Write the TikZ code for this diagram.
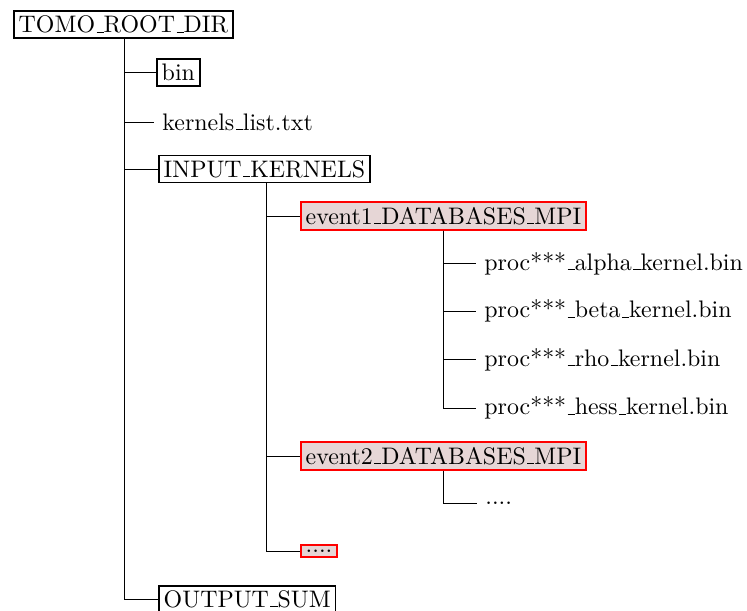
\documentclass[tikz,border=0pt]{standalone}
\definecolor{boxfill}{RGB}{230,214,214}
\newcommand\usc{\leavevmode\kern.06em\vbox{\hrule width.3em}}
\begin{document}
\begin{tikzpicture}[x=0.4184pt,y=-0.4184pt,
  dirbox/.style={draw=black,line width=0.8pt,inner sep=2pt,anchor=west},
  evbox/.style={draw=red,fill=boxfill,line width=0.8pt,inner sep=2pt,anchor=west},
  plain/.style={inner sep=3.33pt,anchor=west},
  conn/.style={draw=black,line width=0.4pt}]
\useasboundingbox (0,0) rectangle (747,610);
\node[dirbox] (root) at (13,24.5) {TOMO\usc ROOT\usc DIR};
\node[dirbox] (bin) at (156,72.5) {bin};
\node[plain] (kl) at (154,122) {kernels\usc list.txt};
\node[dirbox] (ik) at (158,169) {INPUT\usc KERNELS};
\node[evbox] (ev1) at (300,216) {event1\usc DATABASES\usc MPI};
\node[plain] (p1) at (476,263.5) {proc***\usc alpha\usc kernel.bin};
\node[plain] (p2) at (476,311) {proc***\usc beta\usc kernel.bin};
\node[plain] (p3) at (476,359.5) {proc***\usc rho\usc kernel.bin};
\node[plain] (p4) at (476,408) {proc***\usc hess\usc kernel.bin};
\node[evbox] (ev2) at (300,456) {event2\usc DATABASES\usc MPI};
\node[plain] (d2) at (477,503) {....};
\node[evbox] (d1) at (300,551) {....};
\node[dirbox] (os) at (158,599) {OUTPUT\usc SUM};
\foreach \c in {bin,kl,ik,os} \draw[conn] ([xshift=0.5pt]root.south) |- (\c.west);
\foreach \c in {ev1,ev2,d1} \draw[conn] ([xshift=1pt]ik.south) |- (\c.west);
\foreach \c in {p1,p2,p3,p4} \draw[conn] (ev1.south) |- (\c.west);
\draw[conn] (ev2.south) |- (d2.west);
\end{tikzpicture}
\end{document}
